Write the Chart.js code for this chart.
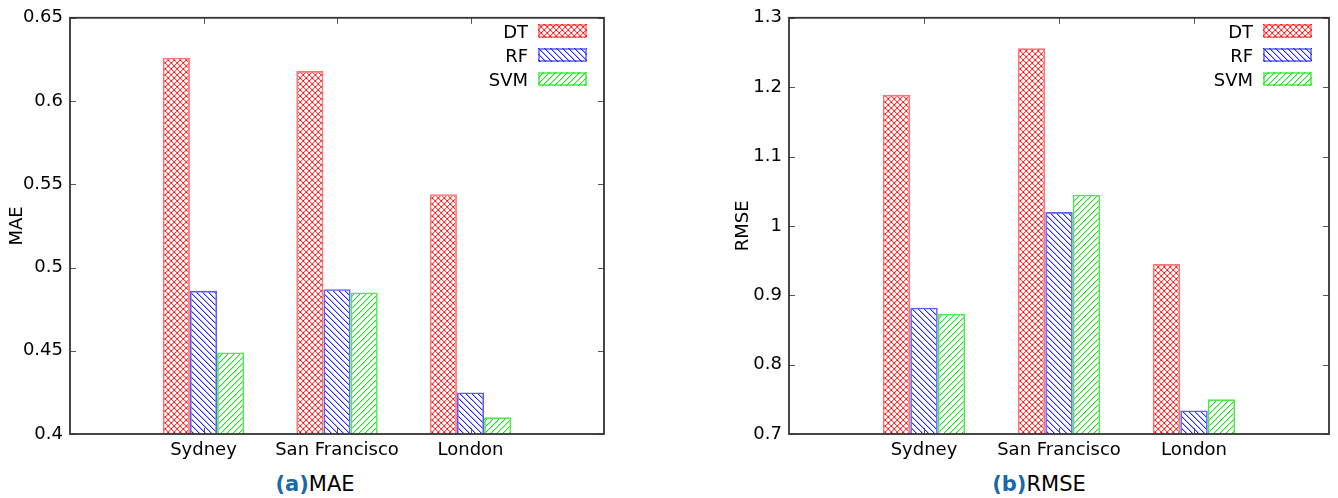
<!DOCTYPE html>
<html><head><meta charset="utf-8">
<script src="https://cdn.jsdelivr.net/npm/chart.js"></script>
<style>
body{margin:0;background:#fff;width:1338px;height:498px;position:relative;overflow:hidden;font-family:"DejaVu Sans",sans-serif;}
canvas.chart{position:absolute;top:0}
.legend{position:absolute;font-size:18px;color:#000;width:200px}
.row{display:flex;align-items:center;height:24px;justify-content:flex-end}
.row span{margin-right:10px}
.row canvas{display:block}
.cap{position:absolute;top:472px;font-size:21px;line-height:24px;transform:translateX(-50%);white-space:nowrap;color:#000}
.cap b{color:#1b6aa6}
</style></head><body>
<canvas id="c1" class="chart" width="669" height="470" style="left:0"></canvas>
<canvas id="c2" class="chart" width="669" height="470" style="left:669px"></canvas>
<div class="legend" id="lg1" style="left:387px;top:19px"></div>
<div class="legend" id="lg2" style="left:1112px;top:19px"></div>
<div class="cap" style="left:315px"><b>(a)</b>MAE</div>
<div class="cap" style="left:1039px"><b>(b)</b>RMSE</div>
<script>
// ---- data ----
const categories = ['Sydney', 'San Francisco', 'London'];
const models = ['DT', 'RF', 'SVM'];
const maeDT  = [0.626, 0.618, 0.544];
const maeRF  = [0.486, 0.487, 0.425];
const maeSVM = [0.449, 0.485, 0.410];
const rmseDT  = [1.189, 1.256, 0.945];
const rmseRF  = [0.882, 1.020, 0.734];
const rmseSVM = [0.873, 1.045, 0.750];
const maeTicks  = [0.4, 0.45, 0.5, 0.55, 0.6, 0.65];
const rmseTicks = [0.7, 0.8, 0.9, 1.0, 1.1, 1.2, 1.3];

// ---- hatch patterns (pixel based, crisp) ----
function makePattern(kind) {
  const N = 6;
  const c = document.createElement('canvas');
  c.width = N; c.height = N;
  const g = c.getContext('2d');
  const px = (x, y, col) => { g.fillStyle = col; g.fillRect(((x % N) + N) % N, ((y % N) + N) % N, 1, 1); };
  if (kind === 'cross') {
    for (let i = 0; i < N; i++) {
      px(i + 1, i, 'rgba(255,0,0,0.25)');
      px(N - 1 - i + 1, i, 'rgba(255,0,0,0.25)');
    }
    for (let i = 0; i < N; i++) {
      px(i, i, 'rgba(255,0,0,0.7)');
      px(N - 1 - i, i, 'rgba(255,0,0,0.7)');
    }
    px(0, 0, 'rgb(255,0,0)'); px(3, 2, 'rgb(255,0,0)');
  } else if (kind === 'back') {
    for (let i = 0; i < N; i++) {
      px(i + 1, i, 'rgba(0,0,255,0.3)');
      px(i, i, 'rgba(0,0,255,0.85)');
    }
  } else {
    for (let i = 0; i < N; i++) {
      px(N - 1 - i + 1, i, 'rgba(0,220,0,0.3)');
      px(N - 1 - i, i, 'rgba(0,220,0,0.9)');
    }
  }
  return g.createPattern(c, 'repeat');
}
const styles = [
  {kind:'cross', border:'rgba(255,40,40,0.65)'},
  {kind:'back',  border:'rgba(40,40,255,0.75)'},
  {kind:'fwd',   border:'rgba(30,230,30,0.8)'}
];

const boxPlugin = {
  id: 'boxTicks',
  afterDatasetsDraw(chart) {
    const {ctx, chartArea: a, scales: {x, y}} = chart;
    ctx.save();
    ctx.strokeStyle = '#555';
    ctx.lineWidth = 1;
    y.ticks.forEach((t, i) => {
      const py = Math.round(y.getPixelForTick(i)) + 0.5;
      ctx.beginPath();
      ctx.moveTo(a.left, py); ctx.lineTo(a.left + 6, py);
      ctx.moveTo(a.right - 6, py); ctx.lineTo(a.right, py);
      ctx.stroke();
    });
    for (let i = 1; i < x.ticks.length - 1; i++) {
      const px = Math.round(x.getPixelForTick(i)) + 0.5;
      ctx.beginPath();
      ctx.moveTo(px, a.top); ctx.lineTo(px, a.top + 6);
      ctx.moveTo(px, a.bottom - 6); ctx.lineTo(px, a.bottom);
      ctx.stroke();
    }
    ctx.strokeStyle = '#333';
    ctx.lineWidth = 1.8;
    ctx.strokeRect(a.left, a.top, a.right - a.left, a.bottom - a.top);
    ctx.restore();
  }
};

function fmt(v, d) { return String(+v.toFixed(d)); }

function build(id, series, ticks, title, yWidth, padRight, titlePad, dec) {
  const labels = ['', ...categories, ''];
  const step = +(ticks[1] - ticks[0]).toFixed(3);
  new Chart(document.getElementById(id), {
    type: 'bar',
    data: {
      labels,
      datasets: series.map((s, i) => ({
        label: models[i],
        data: [null, ...s, null],
        backgroundColor: makePattern(styles[i].kind),
        borderColor: styles[i].border,
        borderWidth: 1.6,
        barPercentage: 1,
        categoryPercentage: 0.61
      }))
    },
    options: {
      responsive: false,
      animation: false,
      layout: {padding: {left: 0, right: padRight, top: 14, bottom: 0}},
      plugins: {legend: {display: false}, tooltip: {enabled: false}},
      scales: {
        x: {
          offset: false,
          grid: {display: false, drawTicks: false},
          border: {display: false},
          ticks: {autoSkip: false, maxRotation: 0, padding: 6, color: '#000',
                  font: {family: 'DejaVu Sans', size: 18}},
          afterFit: s => { s.height = 36; }
        },
        y: {
          min: ticks[0], max: ticks[ticks.length - 1],
          grid: {display: false, drawTicks: false},
          border: {display: false},
          ticks: {stepSize: step, padding: 7, color: '#000',
                  font: {family: 'DejaVu Sans', size: 18},
                  callback: v => fmt(v, dec)},
          title: {display: true, text: title, color: '#000',
                  font: {family: 'DejaVu Sans', size: 18},
                  padding: {top: titlePad, bottom: 0}},
          afterFit: s => { s.width = yWidth; }
        }
      }
    },
    plugins: [boxPlugin]
  });
}

build('c1', [maeDT, maeRF, maeSVM], maeTicks, 'MAE', 70, 65, 7, 2);
build('c2', [rmseDT, rmseRF, rmseSVM], rmseTicks, 'RMSE', 120, 9, 64, 1);

function legend(id) {
  const el = document.getElementById(id);
  models.forEach((m, i) => {
    const row = document.createElement('div');
    row.className = 'row';
    const sp = document.createElement('span');
    sp.textContent = m;
    const cv = document.createElement('canvas');
    cv.width = 49; cv.height = 14;
    const g = cv.getContext('2d');
    g.fillStyle = makePattern(styles[i].kind);
    g.fillRect(0, 0, 49, 14);
    g.strokeStyle = styles[i].border;
    g.lineWidth = 1.5;
    g.strokeRect(1, 1, 47, 12);
    row.appendChild(sp); row.appendChild(cv);
    el.appendChild(row);
  });
}
legend('lg1');
legend('lg2');
</script>
</body></html>
